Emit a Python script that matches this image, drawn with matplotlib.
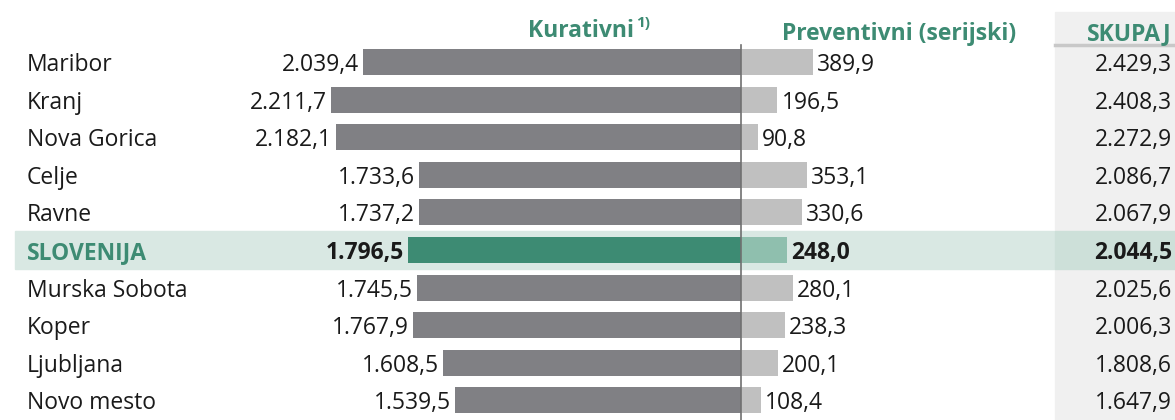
import numpy as np
import matplotlib.pyplot as plt
from matplotlib.patches import Rectangle

plt.rcParams['font.family'] = ['Open Sans', 'DejaVu Sans']

regions = ['Maribor', 'Kranj', 'Nova Gorica', 'Celje', 'Ravne', 'SLOVENIJA',
           'Murska Sobota', 'Koper', 'Ljubljana', 'Novo mesto']
kurativni = [2039.4, 2211.7, 2182.1, 1733.6, 1737.2, 1796.5, 1745.5, 1767.9, 1608.5, 1539.5]
preventivni = [389.9, 196.5, 90.8, 353.1, 330.6, 248.0, 280.1, 238.3, 200.1, 108.4]
skupaj = [2429.3, 2408.3, 2272.9, 2086.7, 2067.9, 2044.5, 2025.6, 2006.3, 1808.6, 1647.9]


def fmt(v):
    s = f'{v:,.1f}'
    return s.replace(',', 'X').replace('.', ',').replace('X', '.')


green = '#3d8b73'
green_light = '#8fbfae'
band = '#d9e8e3'
dark = '#808084'
light = '#c0c0c0'
fs = 16.5

fig = plt.figure(figsize=(11.75, 4.2), dpi=100)
ax = fig.add_axes([0, 0, 1, 1])
px = 0.1855  # pixels per unit
ax.set_xlim(-741 / px, (1175 - 741) / px)
ax.set_ylim(420, 0)
ax.axis('off')

def X(p):
    return (p - 741) / px

y = 62 + 37.6 * np.arange(len(regions))

# SKUPAJ column background
ax.add_patch(Rectangle((X(1055), 12), X(1180) - X(1055), 420, color='#f0f0f0', zorder=0))
ax.plot([X(1055), X(1175)], [45, 45], color='#c8c8c8', lw=2.5, zorder=1)

for i, r in enumerate(regions):
    hl = r == 'SLOVENIJA'
    if hl:
        ax.add_patch(Rectangle((X(15), y[i] - 19), X(1055) - X(15), 38, color=band, zorder=0.5))
        ax.add_patch(Rectangle((X(1055), y[i] - 19), X(1180) - X(1055), 38, color='#cde0d9', zorder=0.5))
    ax.barh(y[i], -kurativni[i], height=26, color=green if hl else dark, zorder=2)
    ax.barh(y[i], preventivni[i], height=26, color=green_light if hl else light, zorder=2)
    w = 'bold' if hl else 'normal'
    tc = '#1a1a1a'
    ax.text(X(27), y[i], r, ha='left', va='center_baseline', fontsize=fs,
            color=green if hl else tc, fontweight=w)
    ax.text(-kurativni[i] - 4 / px, y[i], fmt(kurativni[i]), ha='right', va='center_baseline',
            fontsize=fs, color=tc, fontweight=w)
    ax.text(preventivni[i] + 4 / px, y[i], fmt(preventivni[i]), ha='left', va='center_baseline',
            fontsize=fs, color=tc, fontweight=w)
    ax.text(X(1172), y[i], fmt(skupaj[i]), ha='right', va='center_baseline',
            fontsize=fs, color=tc, fontweight=w)

ax.plot([0, 0], [45, 420], color='#707070', lw=1.2, zorder=3)

ax.text(X(634), 28, 'Kurativni', ha='right', va='center_baseline', fontsize=fs,
        color=green, fontweight='bold')
ax.text(X(636), 21, '1)', ha='left', va='center_baseline', fontsize=11,
        color=green, fontweight='bold')
ax.text(X(899), 31, 'Preventivni (serijski)', ha='center', va='center_baseline', fontsize=fs,
        color=green, fontweight='bold')
ax.text(X(1172), 31, 'SKUPAJ', ha='right', va='center_baseline', fontsize=fs,
        color=green, fontweight='bold')

fig.savefig('out.png', dpi=100)
